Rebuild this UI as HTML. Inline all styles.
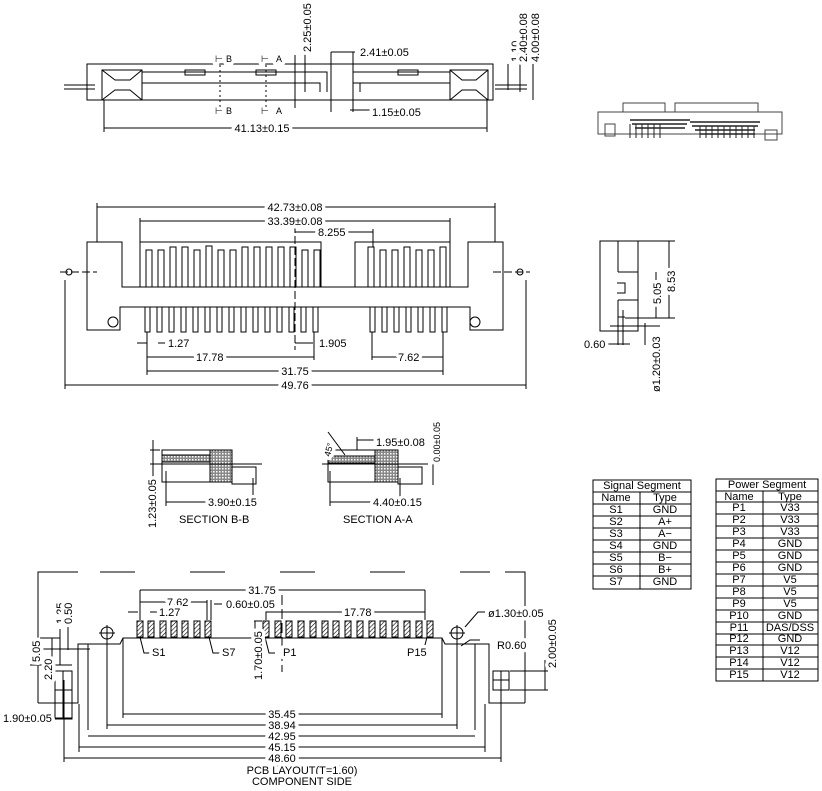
<!DOCTYPE html>
<html><head><meta charset="utf-8"><style>
html,body{margin:0;padding:0;background:#fff;}
svg{display:block;}
text{font-family:"Liberation Sans Narrow","Liberation Sans",sans-serif;font-size:11px;fill:#000;stroke:#fff;stroke-width:7px;stroke-linejoin:round;paint-order:stroke;}
.s{font-size:9px;}
.tb text{stroke:none;}
</style></head><body>
<svg width="822" height="791" viewBox="0 0 822 791" xmlns="http://www.w3.org/2000/svg">
<defs>
<pattern id="h" width="3" height="3" patternUnits="userSpaceOnUse" patternTransform="rotate(45)"><rect width="3" height="3" fill="#fff"/><line x1="0" y1="0" x2="0" y2="3" stroke="#000" stroke-width="1.2"/></pattern>
<pattern id="x" width="3" height="3" patternUnits="userSpaceOnUse"><rect width="3" height="3" fill="#888"/><rect width="1.5" height="1.5" fill="#fff"/></pattern>
</defs>
<g stroke="#000" stroke-width="1" fill="none">
<!-- TOP VIEW -->
<rect x="87" y="64" width="406" height="36"/>
<line x1="64" y1="85" x2="95" y2="85"/><line x1="64" y1="89" x2="95" y2="89"/>
<line x1="495" y1="85" x2="527" y2="85"/><line x1="495" y1="89" x2="527" y2="89"/>
<rect x="102" y="70" width="40" height="30"/><rect x="450" y="70" width="38" height="30"/>
<path d="M102 70 L115 80 L130 80 L142 70 M102 100 L115 90 L130 90 L142 100 M450 70 L462 80 L476 80 L488 70 M450 100 L462 90 L476 90 L488 100"/>
<path d="M142 72 H327 V92 M142 83 H320 V92 M353 72 H450 M353 83 H450 M353 72 V92 M360 83 V92"/>
<rect x="185" y="70" width="20" height="5"/><rect x="256" y="70" width="20" height="5"/><rect x="398" y="70" width="20" height="5"/>
<line x1="220" y1="60" x2="220" y2="112" stroke-dasharray="2,3"/><line x1="266" y1="60" x2="266" y2="112" stroke-dasharray="2,3"/>
<line x1="295" y1="55" x2="295" y2="108"/><line x1="305" y1="10" x2="305" y2="92"/>
<line x1="331" y1="52" x2="331" y2="112"/><line x1="353" y1="52" x2="353" y2="112"/>
<line x1="331" y1="52" x2="355" y2="52"/><line x1="350" y1="110" x2="370" y2="110"/>
<line x1="104" y1="100" x2="104" y2="132"/><line x1="487" y1="100" x2="487" y2="132"/>
<line x1="104" y1="128" x2="487" y2="128"/>
<line x1="508" y1="64" x2="508" y2="90"/><line x1="520" y1="64" x2="520" y2="92"/><line x1="533" y1="64" x2="533" y2="100"/>
<!-- 3D -->
<rect x="598" y="112" width="184" height="22" stroke="#444"/>
<path d="M623 112 V103 H665 V112 M675 112 V103 H758 V112" stroke="#444"/>
<g stroke="#222" stroke-width="1.5"><path d="M630 120 h60 M632 124 h55 M635 128 h50 M690 122 h70 M692 126 h66 M695 130 h60 M700 134 h55"/></g>
<g stroke="#222"><path d="M630 124 v14 M636 124 v14 M642 124 v14 M648 124 v14 M654 124 v14 M660 124 v14 M700 126 v12 M706 126 v12 M712 126 v12 M718 126 v12 M724 126 v12 M730 126 v12 M736 126 v12 M742 126 v12 M748 126 v12 M754 126 v12"/></g>
<rect x="605" y="124" width="10" height="12" stroke="#444"/><rect x="765" y="130" width="12" height="10" stroke="#444"/>
<!-- MIDDLE VIEW -->
<path d="M87 242 H122 V287 H468 V242 H503 V330 H470 V307 H120 V330 H87 Z"/>
<path d="M140 287 V242 H321 V287 M355 287 V242 H450 V287"/>
<g>
<rect x="146" y="250" width="6" height="37"/><rect x="158" y="250" width="6" height="37"/><rect x="170" y="247" width="6" height="40"/><rect x="182" y="247" width="6" height="40"/><rect x="194" y="250" width="6" height="37"/><rect x="206" y="246" width="6" height="41"/><rect x="218" y="250" width="6" height="37"/><rect x="230" y="250" width="6" height="37"/><rect x="242" y="247" width="6" height="40"/><rect x="254" y="247" width="6" height="40"/><rect x="266" y="247" width="6" height="40"/><rect x="278" y="247" width="6" height="40"/><rect x="290" y="247" width="6" height="40"/><rect x="302" y="250" width="6" height="37"/><rect x="314" y="250" width="6" height="37"/>
<rect x="368" y="247" width="6" height="40"/><rect x="380" y="250" width="6" height="37"/><rect x="392" y="250" width="6" height="37"/><rect x="404" y="247" width="6" height="40"/><rect x="416" y="250" width="6" height="37"/><rect x="428" y="250" width="6" height="37"/><rect x="440" y="247" width="6" height="40"/>
</g>
<g>
<path d="M145 307 v25 h5 v-25 M157 307 v25 h5 v-25 M169 307 v25 h5 v-25 M181 307 v25 h5 v-25 M193 307 v25 h5 v-25 M205 307 v25 h5 v-25 M217 307 v25 h5 v-25 M229 307 v25 h5 v-25 M241 307 v25 h5 v-25 M253 307 v25 h5 v-25 M265 307 v25 h5 v-25 M277 307 v25 h5 v-25 M289 307 v25 h5 v-25 M301 307 v25 h5 v-25 M313 307 v25 h5 v-25"/>
<path d="M370 307 v25 h5 v-25 M382 307 v25 h5 v-25 M394 307 v25 h5 v-25 M406 307 v25 h5 v-25 M418 307 v25 h5 v-25 M430 307 v25 h5 v-25 M442 307 v25 h5 v-25"/>
</g>
<line x1="295" y1="225" x2="295" y2="350" stroke-dasharray="8,3"/>
<line x1="60" y1="272" x2="97" y2="272" stroke-dasharray="8,3"/><line x1="493" y1="272" x2="530" y2="272" stroke-dasharray="8,3"/>
<circle cx="69" cy="272" r="3"/><circle cx="520" cy="272" r="3"/>
<circle cx="113" cy="322" r="5"/><circle cx="475" cy="322" r="5"/>
<line x1="97" y1="203" x2="97" y2="242"/><line x1="495" y1="203" x2="495" y2="242"/>
<line x1="97" y1="207" x2="495" y2="207"/><line x1="140" y1="221" x2="450" y2="221"/><line x1="140" y1="218" x2="140" y2="242"/><line x1="450" y1="218" x2="450" y2="242"/>
<line x1="295" y1="232" x2="373" y2="232"/><line x1="373" y1="229" x2="373" y2="247"/>
<line x1="147" y1="332" x2="147" y2="375"/><line x1="314" y1="332" x2="314" y2="360"/><line x1="372" y1="332" x2="372" y2="360"/><line x1="443" y1="332" x2="443" y2="375"/>
<line x1="137" y1="343" x2="147" y2="343"/><line x1="158" y1="343" x2="165" y2="343"/><line x1="295" y1="343" x2="313" y2="343"/>
<line x1="147" y1="357" x2="314" y2="357"/><line x1="372" y1="357" x2="443" y2="357"/><line x1="147" y1="371" x2="443" y2="371"/>
<line x1="65" y1="280" x2="65" y2="389"/><line x1="526" y1="280" x2="526" y2="389"/><line x1="65" y1="385" x2="526" y2="385"/>
<!-- SIDE VIEW -->
<rect x="600" y="241" width="38" height="90"/><path d="M618 241 V272 M618 300 V317 H625 M618 272 H638 M618 300 H638 M617 283 h8 v10 h-8"/>
<line x1="638" y1="241" x2="675" y2="241"/><line x1="625" y1="318" x2="675" y2="318"/>
<line x1="656" y1="272" x2="656" y2="318"/><line x1="669" y1="241" x2="669" y2="318"/>
<line x1="618" y1="310" x2="618" y2="345"/><line x1="623" y1="310" x2="623" y2="345"/><line x1="605" y1="344" x2="630" y2="344"/>
<line x1="610" y1="326" x2="660" y2="326"/><line x1="645" y1="323" x2="645" y2="345"/>
<!-- SECTIONS -->
<rect x="162" y="450" width="70" height="32"/><rect x="232" y="467" width="24" height="17"/>
<rect x="162" y="455" width="70" height="7" fill="url(#x)"/><rect x="210" y="450" width="22" height="32" fill="url(#x)"/>
<line x1="155" y1="464" x2="262" y2="464"/><line x1="166" y1="471" x2="166" y2="506"/><line x1="166" y1="502" x2="253" y2="502"/><line x1="253" y1="478" x2="253" y2="506"/>
<line x1="150" y1="450" x2="160" y2="450"/><line x1="150" y1="464" x2="160" y2="464"/><line x1="153" y1="440" x2="153" y2="478"/>
<rect x="328" y="450" width="70" height="32"/><rect x="398" y="467" width="24" height="17"/>
<rect x="328" y="456" width="50" height="7" fill="url(#x)"/><rect x="375" y="450" width="23" height="32" fill="url(#x)"/>
<line x1="322" y1="464" x2="428" y2="464"/><line x1="330" y1="471" x2="330" y2="506"/><line x1="330" y1="502" x2="400" y2="502"/><line x1="400" y1="478" x2="400" y2="506"/>
<line x1="345" y1="455" x2="328" y2="432"/><line x1="357" y1="437" x2="357" y2="450"/><line x1="357" y1="440" x2="375" y2="440"/>
<line x1="433" y1="420" x2="433" y2="485"/>
<line x1="177" y1="524" x2="236" y2="524"/><line x1="342" y1="524" x2="398" y2="524"/>
<!-- TABLES -->
<rect x="593" y="480" width="98" height="109"/>
<path d="M593 492 H691 M593 504 H691 M593 516 H691 M593 528 H691 M593 540 H691 M593 552 H691 M593 564 H691 M593 576 H691 M640 492 V589"/>
<rect x="716" y="479" width="102" height="202"/>
<path d="M716 491 H818 M716 502 H818 M716 514 H818 M716 526 H818 M716 538 H818 M716 550 H818 M716 562 H818 M716 574 H818 M716 586 H818 M716 598 H818 M716 610 H818 M716 622 H818 M716 634 H818 M716 645 H818 M716 657 H818 M716 669 H818 M763 491 V681"/>
<!-- PCB LAYOUT -->
<path d="M38 703 V572 H78 M100 572 H135 M190 572 H225 M280 572 H315 M370 572 H405 M460 572 H490 M505 572 H525 V703" />
<path d="M38 703 H78 V644 H120 L123 638 H442 L445 644 H489 V703 H525" />
<path d="M88 730 V644 M475 730 V644 M79 752 V704 M485 752 V704"/>
<rect x="55" y="671" width="17" height="48"/><path d="M55 690 H72 M63 671 V719"/>
<rect x="493" y="671" width="16" height="19"/><path d="M493 680 H509 M501 671 V690"/>
<circle cx="107" cy="633" r="6"/><path d="M99 633 H115 M107 625 V641"/><circle cx="457" cy="633" r="6"/><path d="M449 633 H465 M457 625 V641"/>
<g fill="url(#h)">
<rect x="137" y="621" width="6" height="16"/><rect x="148" y="621" width="6" height="16"/><rect x="160" y="621" width="6" height="16"/><rect x="171" y="621" width="6" height="16"/><rect x="182" y="621" width="6" height="16"/><rect x="194" y="621" width="6" height="16"/><rect x="205" y="621" width="6" height="16"/>
<rect x="263" y="621" width="6" height="16"/><rect x="275" y="621" width="6" height="16"/><rect x="286" y="621" width="6" height="16"/><rect x="298" y="621" width="6" height="16"/><rect x="310" y="621" width="6" height="16"/><rect x="322" y="621" width="6" height="16"/><rect x="333" y="621" width="6" height="16"/><rect x="345" y="621" width="6" height="16"/><rect x="357" y="621" width="6" height="16"/><rect x="369" y="621" width="6" height="16"/><rect x="380" y="621" width="6" height="16"/><rect x="392" y="621" width="6" height="16"/><rect x="404" y="621" width="6" height="16"/><rect x="416" y="621" width="6" height="16"/><rect x="427" y="621" width="6" height="16"/>
</g>
<line x1="282" y1="595" x2="282" y2="672" stroke-dasharray="10,4"/>
<line x1="140" y1="590" x2="140" y2="620"/><line x1="425" y1="590" x2="425" y2="620"/><line x1="140" y1="590" x2="425" y2="590"/>
<line x1="140" y1="602" x2="207" y2="602"/><line x1="207" y1="600" x2="207" y2="620"/><line x1="211" y1="600" x2="211" y2="620"/><line x1="214" y1="604" x2="222" y2="604"/>
<line x1="128" y1="612" x2="138" y2="612"/><line x1="150" y1="612" x2="157" y2="612"/>
<line x1="266" y1="612" x2="425" y2="612"/><line x1="266" y1="610" x2="266" y2="620"/>
<line x1="254" y1="621" x2="262" y2="621"/><line x1="254" y1="637" x2="262" y2="637"/><line x1="255" y1="621" x2="255" y2="660"/>
<path d="M140 637 L144 653 H150 M209 637 L213 653 H220 M265 637 L269 653 H275 M427 637 L423 653 H417"/>
<line x1="123" y1="638" x2="123" y2="718"/><line x1="442" y1="638" x2="442" y2="718"/><line x1="123" y1="714" x2="442" y2="714"/>
<line x1="107" y1="640" x2="107" y2="729"/><line x1="457" y1="640" x2="457" y2="729"/><line x1="107" y1="725" x2="457" y2="725"/>
<line x1="88" y1="736" x2="475" y2="736"/><line x1="79" y1="747" x2="485" y2="747"/>
<line x1="64" y1="680" x2="64" y2="762"/><line x1="501" y1="680" x2="501" y2="762"/><line x1="64" y1="758" x2="501" y2="758"/>
<path d="M465 627 L478 612 H485 M461 646 L470 640 H480 M40 638 H60 M40 649 H90 M30 665 H72 M52 638 V672 M60 629 V665 M68 627 V650 M510 671 H548 M510 690 H548 M545 660 V690"/>
<line x1="53" y1="718" x2="72" y2="718"/>
<line x1="253" y1="766" x2="350" y2="766"/>
</g>
<!-- TEXT -->
<g>
<text x="226" y="62" class="s">B</text><text x="276" y="62" class="s">A</text><text x="226" y="114" class="s">B</text><text x="276" y="114" class="s">A</text>
<text x="215" y="62" class="s">⊢</text><text x="261" y="62" class="s">⊢</text><text x="215" y="114" class="s">⊢</text><text x="261" y="114" class="s">⊢</text>
<text transform="translate(311,52) rotate(-90)">2.25±0.05</text>
<text x="360" y="56">2.41±0.05</text>
<text x="372" y="116">1.15±0.05</text>
<text transform="translate(519,62) rotate(-90)">1.10</text>
<text transform="translate(527,62) rotate(-90)">2.40±0.08</text>
<text transform="translate(539,62) rotate(-90)">4.00±0.08</text>
<text x="262" y="132" text-anchor="middle">41.13±0.15</text>
<text x="295" y="211" text-anchor="middle">42.73±0.08</text>
<text x="295" y="225" text-anchor="middle">33.39±0.08</text>
<text x="318" y="236">8.255</text>
<text x="168" y="347">1.27</text><text x="319" y="347">1.905</text>
<text x="196" y="361">17.78</text><text x="398" y="361">7.62</text>
<text x="295" y="375" text-anchor="middle">31.75</text>
<text x="295" y="389" text-anchor="middle">49.76</text>
<text transform="translate(675,292) rotate(-90)">8.53</text>
<text transform="translate(661,304) rotate(-90)">5.05</text>
<text x="584" y="348">0.60</text>
<text transform="translate(660,392) rotate(-90)">ø1.20±0.03</text>
<text x="376" y="446">1.95±0.08</text>
<text transform="translate(330,457) rotate(-75)" class="s">45°</text>
<text transform="translate(440,462) rotate(-90)" class="s">0.00±0.05</text>
<text transform="translate(156,528) rotate(-90)">1.23±0.05</text>
<text x="208" y="506">3.90±0.15</text>
<text x="373" y="506">4.40±0.15</text>
<text x="179" y="523">SECTION B-B</text>
<text x="343" y="523">SECTION A-A</text>
<g class="s tb">
<text x="642" y="489" text-anchor="middle">Signal Segment</text>
<text x="616" y="501" text-anchor="middle">Name</text><text x="665" y="501" text-anchor="middle">Type</text>
<text x="616" y="513" text-anchor="middle">S1</text><text x="665" y="513" text-anchor="middle">GND</text>
<text x="616" y="525" text-anchor="middle">S2</text><text x="665" y="525" text-anchor="middle">A+</text>
<text x="616" y="537" text-anchor="middle">S3</text><text x="665" y="537" text-anchor="middle">A−</text>
<text x="616" y="549" text-anchor="middle">S4</text><text x="665" y="549" text-anchor="middle">GND</text>
<text x="616" y="561" text-anchor="middle">S5</text><text x="665" y="561" text-anchor="middle">B−</text>
<text x="616" y="573" text-anchor="middle">S6</text><text x="665" y="573" text-anchor="middle">B+</text>
<text x="616" y="585" text-anchor="middle">S7</text><text x="665" y="585" text-anchor="middle">GND</text>
<text x="767" y="488" text-anchor="middle">Power Segment</text>
<text x="739" y="500" text-anchor="middle">Name</text><text x="790" y="500" text-anchor="middle">Type</text>
<text x="739" y="511" text-anchor="middle">P1</text><text x="790" y="511" text-anchor="middle">V33</text>
<text x="739" y="523" text-anchor="middle">P2</text><text x="790" y="523" text-anchor="middle">V33</text>
<text x="739" y="535" text-anchor="middle">P3</text><text x="790" y="535" text-anchor="middle">V33</text>
<text x="739" y="547" text-anchor="middle">P4</text><text x="790" y="547" text-anchor="middle">GND</text>
<text x="739" y="559" text-anchor="middle">P5</text><text x="790" y="559" text-anchor="middle">GND</text>
<text x="739" y="571" text-anchor="middle">P6</text><text x="790" y="571" text-anchor="middle">GND</text>
<text x="739" y="583" text-anchor="middle">P7</text><text x="790" y="583" text-anchor="middle">V5</text>
<text x="739" y="595" text-anchor="middle">P8</text><text x="790" y="595" text-anchor="middle">V5</text>
<text x="739" y="607" text-anchor="middle">P9</text><text x="790" y="607" text-anchor="middle">V5</text>
<text x="739" y="619" text-anchor="middle">P10</text><text x="790" y="619" text-anchor="middle">GND</text>
<text x="739" y="631" text-anchor="middle">P11</text><text x="790" y="631" text-anchor="middle">DAS/DSS</text>
<text x="739" y="642" text-anchor="middle">P12</text><text x="790" y="642" text-anchor="middle">GND</text>
<text x="739" y="654" text-anchor="middle">P13</text><text x="790" y="654" text-anchor="middle">V12</text>
<text x="739" y="666" text-anchor="middle">P14</text><text x="790" y="666" text-anchor="middle">V12</text>
<text x="739" y="678" text-anchor="middle">P15</text><text x="790" y="678" text-anchor="middle">V12</text>
</g>
<text x="262" y="594" text-anchor="middle">31.75</text>
<text x="167" y="606">7.62</text>
<text x="159" y="616">1.27</text>
<text x="226" y="608">0.60±0.05</text>
<text x="344" y="616">17.78</text>
<text x="152" y="656">S1</text><text x="222" y="656">S7</text><text x="283" y="656">P1</text><text x="407" y="656">P15</text>
<text transform="translate(262,680) rotate(-90)">1.70±0.05</text>
<text x="488" y="617">ø1.30±0.05</text>
<text x="497" y="649">R0.60</text>
<text transform="translate(556,668) rotate(-90)">2.00±0.05</text>
<text transform="translate(64,624) rotate(-90)">1.25</text>
<text transform="translate(72,624) rotate(-90)">0.50</text>
<text transform="translate(40,662) rotate(-90)">5.05</text>
<text transform="translate(52,680) rotate(-90)">2.20</text>
<text x="3" y="722">1.90±0.05</text>
<text x="282" y="718" text-anchor="middle">35.45</text>
<text x="282" y="729" text-anchor="middle">38.94</text>
<text x="282" y="740" text-anchor="middle">42.95</text>
<text x="282" y="751" text-anchor="middle">45.15</text>
<text x="282" y="762" text-anchor="middle">48.60</text>
<text x="302" y="774" text-anchor="middle">PCB LAYOUT(T=1.60)</text>
<text x="302" y="785" text-anchor="middle">COMPONENT SIDE</text>
</g>
</svg>
</body></html>
